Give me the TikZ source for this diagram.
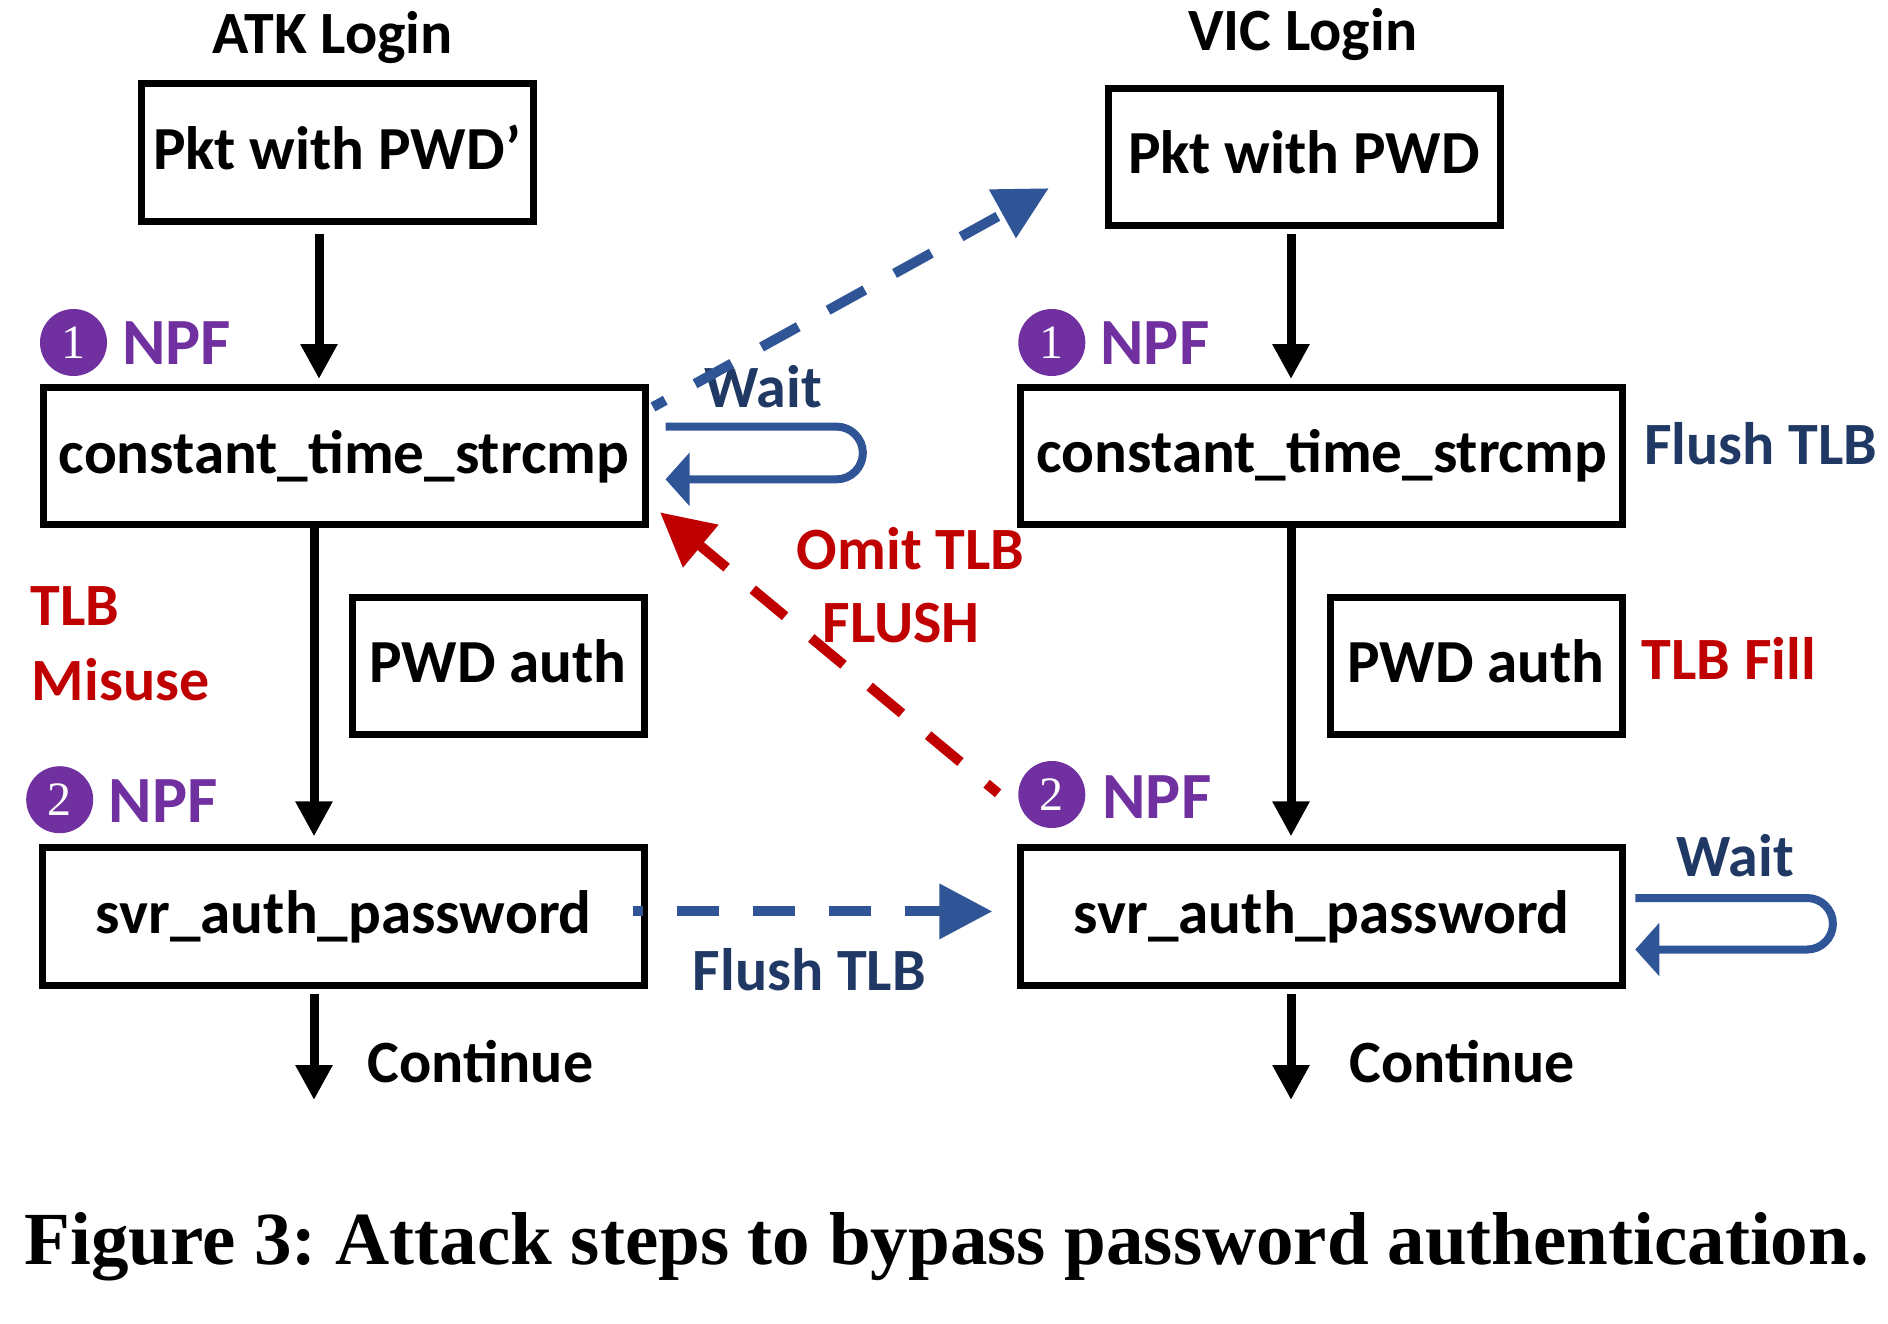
\documentclass[tikz,border=0pt]{standalone}
\usepackage{fontspec}
\setmainfont{Carlito}
\newfontfamily\capfont{Liberation Serif}
\usetikzlibrary{arrows.meta,calc}
\definecolor{npfpurple}{HTML}{7030A0}
\definecolor{tlbred}{HTML}{C00000}
\definecolor{navytext}{HTML}{203864}
\definecolor{arrowblue}{HTML}{2F5597}
\frenchspacing
\begin{document}
\begin{tikzpicture}[x=0.5pt,y=-0.5pt,
  lbl/.style={inner sep=0pt,font=\fontsize{30pt}{36pt}\selectfont\bfseries},
  box/.style={draw=black,line width=3.5pt,outer sep=0pt,inner sep=0pt,
    minimum width=#1,minimum height=68.75pt,text height=19.6pt,text depth=2.5pt,
    font=\fontsize{30.6pt}{36pt}\selectfont\bfseries},
  numdot/.style={circle,fill=npfpurple,minimum size=33.5pt,inner sep=0pt,text=white,
    font=\capfont\fontsize{24pt}{28pt}\selectfont},
  npf/.style={inner sep=0pt,anchor=base west,text=npfpurple,font=\fontsize{33pt}{40pt}\selectfont\bfseries},
  blk/.style={line width=4.5pt,-{Triangle[length=17.5pt,width=17.5pt]}},
  dashblue/.style={arrowblue,line width=5pt,dash pattern=on 21pt off 17pt,
    -{Triangle[length=26.5pt,width=26.5pt]}},
  dashred/.style={tlbred,line width=5pt,dash pattern=on 21pt off 17pt,
    -{Triangle[length=26.5pt,width=26.5pt]}},
  loopline/.style={arrowblue,line width=4pt,line join=round,
    -{Triangle[length=12pt,width=26pt]}}
]
\useasboundingbox (0,0) rectangle (1888,1323);

% titles
\node[lbl,anchor=base] (atk) at (332.7,53.6) {ATK Login};
\node[lbl,anchor=base] (vic) at (1302.8,50) {VIC Login};

% boxes
\node[box=196pt] (pkt1) at (337,152.5) {Pkt with PWD’};
\node[box=196pt] (pkt2) at (1304,156.8) {Pkt with PWD};
\node[box=301pt] (cts1) at (344,456) {constant\_time\_strcmp};
\node[box=301pt] (cts2) at (1321.8,455.8) {constant\_time\_strcmp};
\node[box=146pt] (pwd1) at (498,665.8) {PWD auth};
\node[box=146pt] (pwd2) at (1476,665.8) {PWD auth};
\node[box=301pt] (svr1) at (343.8,916.5) {svr\_auth\_password};
\node[box=301pt] (svr2) at (1321.8,916.5) {svr\_auth\_password};

% NPF markers
\node[numdot] (c1L) at (73.5,342.5) {1};
\node[npf] (npf1L) at (121.7,364) {NPF};
\node[numdot] (c1R) at (1051.8,342.5) {1};
\node[npf] (npf1R) at (1100,364) {NPF};
\node[numdot] (c2L) at (59.7,799.7) {2};
\node[npf] (npf2L) at (108.3,822.7) {NPF};
\node[numdot] (c2R) at (1051.8,794.5) {2};
\node[npf] (npf2R) at (1102,818.6) {NPF};

% side labels
\node[lbl,anchor=base west,text=tlbred] (tlb) at (30,625.7) {TLB};
\node[lbl,anchor=base west,text=tlbred] (misuse) at (31.6,700.7) {Misuse};
\node[lbl,anchor=base west,text=navytext] (flushR) at (1644,464) {Flush TLB};
\node[lbl,anchor=base west,text=tlbred] (tlbfill) at (1641.3,679.3) {TLB Fill};
\node[lbl,anchor=base,text=tlbred] (omit) at (910.5,569.3) {Omit TLB};
\node[lbl,anchor=base,text=tlbred] (flushw) at (901.3,642.3) {FLUSH};
\node[lbl,anchor=base west,text=navytext] (flushB) at (692.4,990.7) {Flush TLB};
\node[lbl,anchor=base west,text=navytext] (waitL) at (704,407.5) {Wait};
\node[lbl,anchor=base west,text=navytext] (waitR) at (1676,876) {Wait};
\node[lbl,anchor=base west] (contL) at (367.5,1082) {Continue};
\node[lbl,anchor=base west] (contR) at (1349,1082) {Continue};

% black flow arrows
\draw[blk] ($(pkt1.south)+(-18,12.75)$) -- ($(cts1.north)+(-25,-8.25)$);
\draw[blk] ($(pkt2.south)+(-13,8.45)$) -- ($(cts2.north)+(-30.8,-8)$);
\draw[blk] ($(cts1.south)+(-30,0)$) -- ($(svr1.north)+(-29.8,-11.35)$);
\draw[blk] ($(cts2.south)+(-30.8,0)$) -- ($(svr2.north)+(-30.8,-11.35)$);
\coordinate (endL) at ($(svr1.south)+(-29.8,114.75)$);
\coordinate (endR) at ($(svr2.south)+(-30.8,114.75)$);
\draw[blk] ($(svr1.south)+(-29.8,8.75)$) -- (endL);
\draw[blk] ($(svr2.south)+(-30.8,8.75)$) -- (endR);

% dashed cross arrows
\draw[dashblue,dash phase=14pt] ($(cts1.north east)+(8,19.75)$) -- ($(pkt2.south west)+(-59.2,-37.35)$);
\draw[dashred,dash phase=13.5pt] ($(svr2.north west)+(-22.7,-54.45)$) -- ($(cts1.south east)+(15,-12.45)$);
\draw[dashblue,dash phase=16pt] ($(svr1.east)+(-12.15,-5.1)$) -- ($(svr2.west)+(-28.4,-5.1)$);

% wait loops
\draw[loopline] ($(cts1.east)+(20.5,-29.4)$) -- ++(171,0)
  arc[start angle=90,end angle=-90,radius=13.175pt] -- ($(cts1.east)+(20.5,23.3)$);
\draw[loopline] ($(svr2.east)+(12.45,-18.5)$) -- ++(171.9,0)
  arc[start angle=90,end angle=-90,radius=12.875pt] -- ($(svr2.east)+(12.45,33)$);

% caption
\node[inner sep=0pt,anchor=base,font={\capfont\bfseries\fontsize{37.5pt}{45pt}\selectfont}] (cap) at (946.8,1264)
  {Figure 3: Attack steps to bypass password authentication.};
\end{tikzpicture}
\end{document}
